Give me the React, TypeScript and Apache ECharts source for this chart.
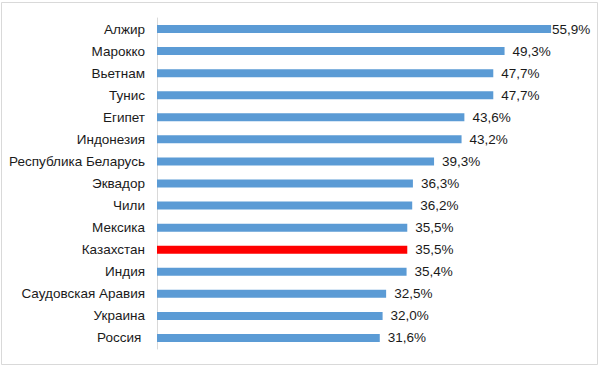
import React, { useEffect, useRef } from "react";
import * as echarts from "echarts";

const categories = [
  "Алжир",
  "Марокко",
  "Вьетнам",
  "Тунис",
  "Египет",
  "Индонезия",
  "Республика Беларусь",
  "Эквадор",
  "Чили",
  "Мексика",
  "Казахстан",
  "Индия",
  "Саудовская Аравия",
  "Украина",
  "Россия ",
];
const values = [55.9, 49.3, 47.7, 47.7, 43.6, 43.2, 39.3, 36.3, 36.2, 35.5, 35.5, 35.4, 32.5, 32.0, 31.6];
const highlight = "Казахстан";

export default function App() {
  const ref = useRef<HTMLDivElement>(null);
  useEffect(() => {
    const chart = echarts.init(ref.current!, null, { renderer: "svg" });
    const font = "Liberation Sans, Arial, sans-serif";
    chart.setOption({
      animation: false,
      backgroundColor: "#ffffff",
      grid: { left: 157, right: 20, top: 18, bottom: 19, containLabel: false },
      xAxis: {
        type: "value",
        min: 0,
        max: 60,
        show: false,
      },
      yAxis: {
        type: "category",
        inverse: true,
        data: categories,
        axisLine: { show: true, lineStyle: { color: "#D9D9D9", width: 1 } },
        axisTick: { show: false },
        axisLabel: {
          color: "#1a1a1a",
          fontFamily: font,
          fontSize: 13.5,
          margin: 12,
        },
      },
      graphic: [
        {
          type: "rect",
          shape: { x: 1.5, y: 2.5, width: 596, height: 362 },
          style: { fill: "none", stroke: "#D9D9D9", lineWidth: 1 },
          silent: true,
        },
      ],
      series: [
        {
          type: "bar",
          barWidth: 8,
          data: values.map((v, i) => ({
            value: v,
            itemStyle: { color: categories[i] === highlight ? "#FF0000" : "#5B9BD5" },
            label: i === 0 ? { distance: 1 } : undefined,
          })),
          label: {
            show: true,
            position: "right",
            distance: 8,
            color: "#1a1a1a",
            fontFamily: font,
            fontSize: 13.5,
            formatter: (p: any) => `${Number(p.value).toFixed(1).replace(".", ",")}%`,
          },
        },
      ],
    });
    return () => chart.dispose();
  }, []);
  return (
    <div
      ref={ref}
      style={{ position: "fixed", left: 0, top: 0, width: 600, height: 368 }}
    />
  );
}
